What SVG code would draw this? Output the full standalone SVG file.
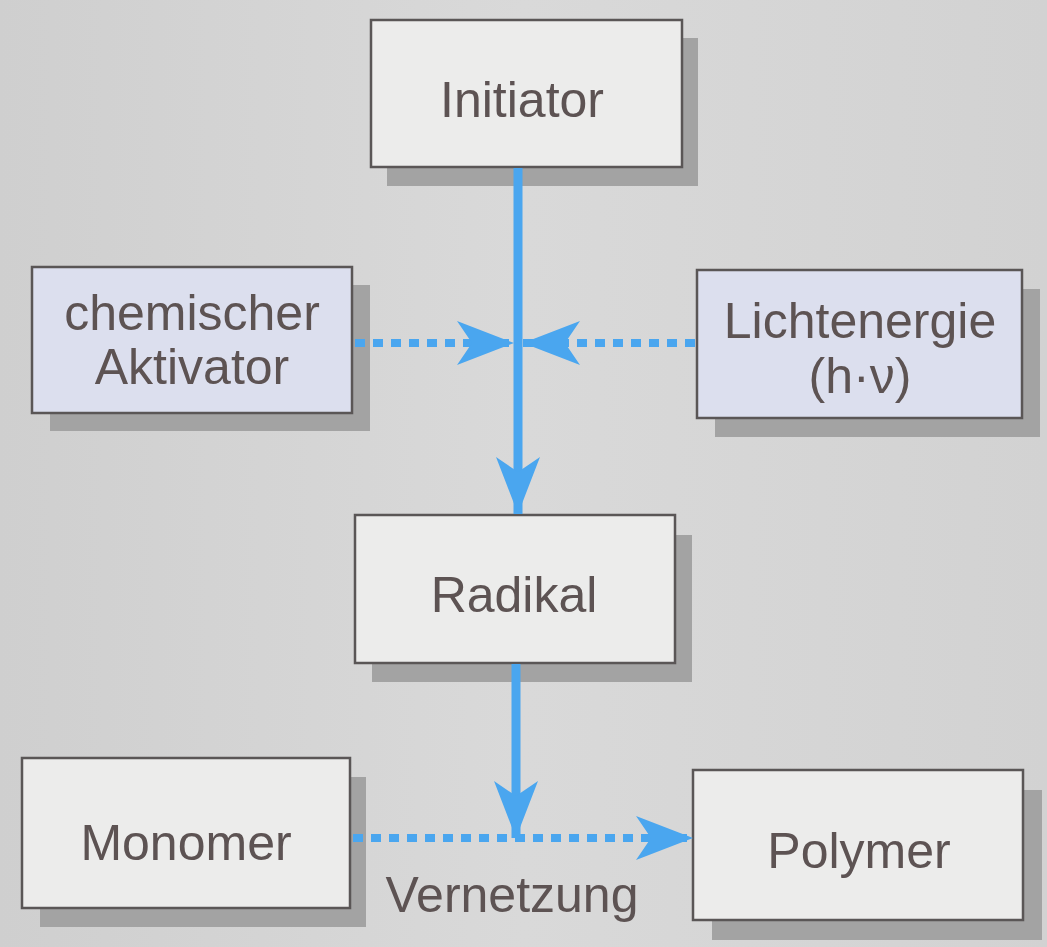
<svg xmlns="http://www.w3.org/2000/svg" width="1047" height="947" viewBox="0 0 1047 947">
  <style>
    .box { stroke: #5a5656; stroke-width: 2.5; }
    .plain { fill: #ececeb; }
    .lav { fill: #dcdfee; }
    .shadow { fill: #a3a3a3; }
    .label { font-family: "Liberation Sans", Arial, sans-serif; font-size: 50px; fill: #5d5353; text-anchor: middle; }
    .solid { stroke: #4aa6ef; stroke-width: 9; fill: none; }
    .dash { stroke: #4aa6ef; stroke-width: 8; fill: none; stroke-dasharray: 10 8; }
  </style>
  <defs>
    <linearGradient id="bg" x1="0" y1="0" x2="1" y2="0">
      <stop offset="0" stop-color="#cfcfcf"/>
      <stop offset="0.5" stop-color="#d9d9d9"/>
      <stop offset="1" stop-color="#d2d2d2"/>
    </linearGradient>
    <marker id="head" viewBox="-60 -25 62 50" refX="0" refY="0" markerWidth="62" markerHeight="50" markerUnits="userSpaceOnUse" orient="auto">
      <path d="M0,0 L-57,-22 L-42,0 L-57,22 Z" fill="#4aa6ef"/>
    </marker>
  </defs>
  <rect x="0" y="0" width="1047" height="947" fill="url(#bg)"/>

  <g id="initiator">
    <rect class="shadow" x="387" y="38" width="311" height="148"/>
    <rect class="box plain" x="371" y="20" width="311" height="147"/>
    <text class="label" x="522" y="117">Initiator</text>
  </g>

  <g id="aktivator">
    <rect class="shadow" x="50" y="285" width="320" height="146"/>
    <rect class="box lav" x="32" y="267" width="320" height="146"/>
    <text class="label" x="192" y="330">chemischer</text>
    <text class="label" x="192" y="384">Aktivator</text>
  </g>

  <g id="lichtenergie">
    <rect class="shadow" x="715" y="289" width="325" height="148"/>
    <rect class="box lav" x="697" y="270" width="325" height="148"/>
    <text class="label" x="860" y="338">Lichtenergie</text>
    <text class="label" x="860" y="393">(h·ν)</text>
  </g>

  <g id="radikal">
    <rect class="shadow" x="372" y="535" width="320" height="147"/>
    <rect class="box plain" x="355" y="515" width="320" height="148"/>
    <text class="label" x="514" y="612">Radikal</text>
  </g>

  <g id="monomer">
    <rect class="shadow" x="40" y="777" width="326" height="150"/>
    <rect class="box plain" x="22" y="758" width="328" height="150"/>
    <text class="label" x="186" y="860">Monomer</text>
  </g>

  <g id="polymer">
    <rect class="shadow" x="712" y="790" width="330" height="150"/>
    <rect class="box plain" x="693" y="770" width="330" height="150"/>
    <text class="label" x="859" y="868">Polymer</text>
  </g>

  <g id="vernetzung">
    <text class="label" x="512" y="912">Vernetzung</text>
  </g>

  <g id="connectors">
    <line class="solid" x1="518" y1="168" x2="518" y2="514" marker-end="url(#head)"/>
    <line class="dash" x1="355" y1="343" x2="514" y2="343" marker-end="url(#head)"/>
    <line class="dash" x1="695" y1="343" x2="523" y2="343" marker-end="url(#head)"/>
    <line class="solid" x1="516" y1="664" x2="516" y2="838" marker-end="url(#head)"/>
    <line class="dash" x1="353" y1="838" x2="693" y2="838" marker-end="url(#head)"/>
  </g>
</svg>
